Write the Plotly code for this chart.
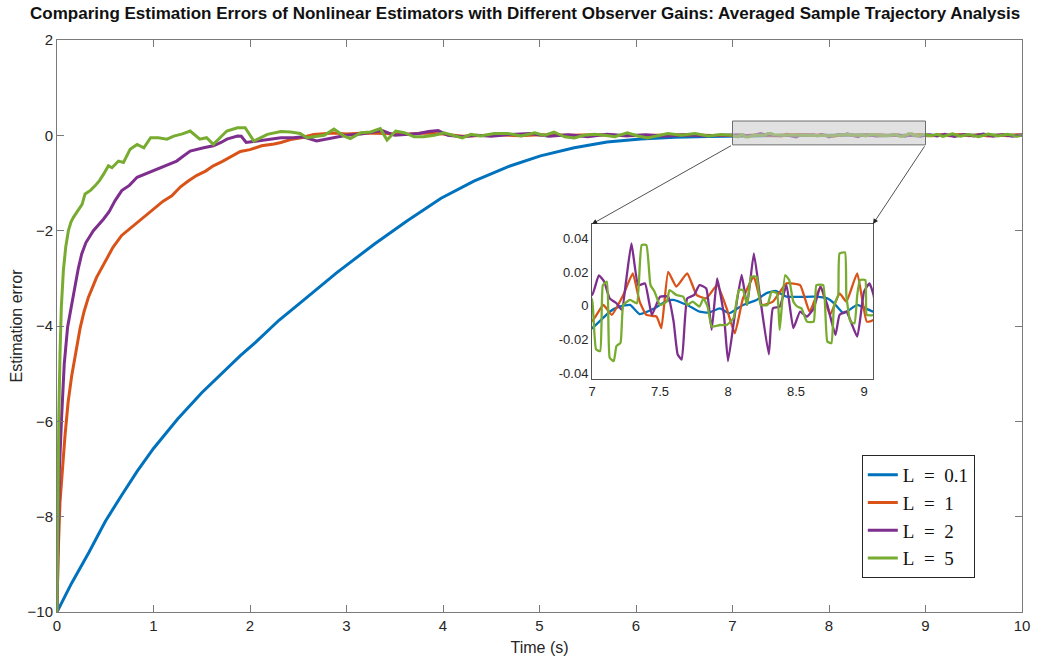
import plotly.graph_objects as go

# ---------------- data ----------------
labels = ["L\u2002=\u20020.1", "L\u2002=\u20021", "L\u2002=\u20022", "L\u2002=\u20025"]
colors = ["#0072BD", "#D95319", "#7E2F8E", "#77AC30"]

# transient part 0..7 s
t_l01 = [0, 0.15, 0.33, 0.5, 0.67, 0.83, 1.0, 1.25, 1.5, 1.75, 1.9, 2.06, 2.3, 2.59, 2.9,
         3.29, 3.63, 3.98, 4.32, 4.67, 5.01, 5.36, 5.7, 6.05, 6.4, 6.74]
y_l01 = [-10, -9.4, -8.75, -8.1, -7.55, -7.05, -6.57, -5.95, -5.4, -4.9, -4.62, -4.34, -3.88,
         -3.40, -2.88, -2.28, -1.79, -1.32, -0.96, -0.66, -0.43, -0.26, -0.14, -0.075, -0.04, -0.022]

t_l1 = [0, 0.01, 0.031, 0.06, 0.083, 0.115, 0.152, 0.2, 0.239, 0.28, 0.325, 0.41, 0.5, 0.58,
        0.67, 0.76, 0.84, 0.93, 1.02, 1.1, 1.19, 1.28, 1.36, 1.45, 1.54, 1.62, 1.71, 1.8, 1.9,
        2.0, 2.06, 2.12, 2.25, 2.32, 2.42, 2.53, 2.66, 2.8, 2.87, 3.0, 3.2, 3.4, 3.6, 3.8, 4.0,
        4.2, 4.4, 4.6, 4.8, 5.0, 5.3, 5.6, 5.9, 6.2, 6.5, 6.8]
y_l1 = [-10, -8.9, -7.7, -6.9, -6.3, -5.6, -5.05, -4.5, -4.05, -3.7, -3.4, -2.98, -2.63, -2.35,
        -2.1, -1.95, -1.82, -1.66, -1.50, -1.38, -1.27, -1.08, -0.96, -0.84, -0.75, -0.64, -0.55,
        -0.45, -0.34, -0.30, -0.26, -0.22, -0.18, -0.15, -0.09, -0.05, 0.02, 0.03, 0.05, 0.03,
        0.05, 0.04, 0.02, 0.05, 0.03, -0.02, 0.0, 0.01, -0.01, 0.01, 0.0, 0.01, -0.01, 0.0, 0.01,
        -0.005]

t_l2 = [0, 0.01, 0.025, 0.048, 0.075, 0.11, 0.15, 0.187, 0.22, 0.256, 0.3, 0.377, 0.43, 0.481,
        0.54, 0.602, 0.671, 0.75, 0.83, 0.9, 0.97, 1.1, 1.24, 1.3, 1.38, 1.52, 1.62, 1.7, 1.76,
        1.87, 1.91, 1.96, 2.06, 2.18, 2.32, 2.45, 2.55, 2.69, 2.85, 3.0, 3.15, 3.3, 3.37, 3.5,
        3.62, 3.75, 3.85, 3.95, 4.05, 4.2, 4.35, 4.5, 4.7, 4.9, 5.1, 5.3, 5.5, 5.7, 5.9, 6.1,
        6.3, 6.5, 6.7, 6.9]
y_l2 = [-10, -8.5, -7.0, -5.9, -4.8, -4.02, -3.55, -3.19, -2.8, -2.49, -2.25, -2.0, -1.88, -1.76,
        -1.6, -1.37, -1.16, -1.05, -0.88, -0.82, -0.77, -0.65, -0.54, -0.45, -0.33, -0.26, -0.22,
        -0.15, -0.08, -0.015, -0.02, -0.15, -0.12, -0.08, -0.05, -0.05, -0.03, -0.12, -0.05, 0.0,
        0.03, 0.08, 0.1, 0.0, 0.02, 0.04, 0.08, 0.1, 0.0, -0.03, 0.0, -0.02, 0.02, 0.04, -0.02,
        0.01, -0.03, 0.02, -0.01, 0.01, -0.02, 0.01, -0.01, 0.01]

t_l5 = [0, 0.008, 0.018, 0.031, 0.045, 0.066, 0.09, 0.118, 0.145, 0.17, 0.221, 0.26, 0.291,
        0.35, 0.394, 0.44, 0.481, 0.533, 0.57, 0.637, 0.689, 0.758, 0.83, 0.90, 0.97, 1.05,
        1.14, 1.21, 1.30, 1.38, 1.48, 1.55, 1.62, 1.70, 1.76, 1.87, 1.95, 2.04, 2.18, 2.32,
        2.42, 2.52, 2.59, 2.66, 2.77, 2.87, 2.97, 3.04, 3.15, 3.25, 3.35, 3.42, 3.51, 3.60,
        3.70, 3.80, 3.91, 4.01, 4.12, 4.20, 4.29, 4.39, 4.53, 4.67, 4.81, 4.88, 4.95, 5.05,
        5.15, 5.26, 5.36, 5.46, 5.57, 5.67, 5.78, 5.91, 6.02, 6.12, 6.23, 6.33, 6.47, 6.61,
        6.75, 6.88]
y_l5 = [-10, -8.0, -6.0, -4.6, -3.6, -2.84, -2.35, -2.0, -1.82, -1.72, -1.58, -1.45, -1.23,
        -1.15, -1.06, -0.95, -0.82, -0.64, -0.68, -0.54, -0.57, -0.29, -0.19, -0.26, -0.05,
        -0.05, -0.08, -0.015, 0.03, 0.09, -0.08, -0.05, -0.19, -0.02, 0.09, 0.16, 0.16, -0.12,
        0.02, 0.08, 0.07, 0.04, -0.05, -0.03, 0.0, 0.13, -0.01, -0.07, 0.055, 0.07, 0.14, -0.1,
        0.09, 0.055, -0.03, -0.03, 0.0, 0.055, 0.0, -0.055, 0.02, -0.015, 0.04, 0.04, -0.015,
        0.015, 0.055, 0.0, 0.07, -0.03, -0.055, 0.0, 0.02, 0.0, -0.03, 0.055, -0.015, -0.055,
        0.0, 0.04, 0.0, 0.04, -0.015, 0.015]

# zoomed window 7..9.07 s
ti_l01 = [7.0, 7.13, 7.2, 7.28, 7.35, 7.46, 7.55, 7.6, 7.7, 7.79, 7.86, 7.94, 8.01, 8.11,
          8.21, 8.28, 8.35, 8.43, 8.63, 8.73, 8.78, 8.85, 8.95, 9.07]
yi_l01 = [-0.0134, -0.0036, -0.0006, 0.0004, -0.005, -0.0016, 0.0028, 0.0034, 0.0004, -0.0036,
          -0.0041, -0.0016, -0.0045, 0.0004, 0.0034, 0.0073, 0.0087, 0.0053, 0.0053, 0.0043,
          0.0014, -0.0045, 0.0004, -0.0036]

ti_l1 = [7.0, 7.083, 7.145, 7.23, 7.30, 7.35, 7.40, 7.475, 7.51, 7.56, 7.62, 7.70, 7.77, 7.84,
         7.92, 7.99, 8.05, 8.11, 8.19, 8.25, 8.33, 8.43, 8.53, 8.60, 8.68, 8.75, 8.82, 8.87,
         8.95, 9.02, 9.07]
yi_l1 = [-0.0091, 0.0004, -0.0055, 0.0063, 0.0192, 0.0024, -0.0055, -0.0065, -0.0134, 0.0201,
         0.0113, 0.0192, 0.0063, 0.0043, 0.0122, -0.0016, -0.0164, 0.0043, 0.0172, 0.0004,
         0.0024, 0.0132, 0.0122, -0.0036, 0.0113, -0.0055, 0.0073, 0.0024, 0.0192, -0.0095,
         -0.0085]

ti_l2 = [7.0, 7.05, 7.09, 7.13, 7.18, 7.22, 7.25, 7.29, 7.34, 7.39, 7.44, 7.5, 7.56, 7.6, 7.63,
         7.66, 7.70, 7.75, 7.79, 7.84, 7.88, 7.92, 7.97, 8.0, 8.05, 8.10, 8.14, 8.19, 8.24, 8.30,
         8.33, 8.38, 8.43, 8.48, 8.53, 8.58, 8.63, 8.68, 8.73, 8.79, 8.82, 8.87, 8.95, 9.0, 9.04,
         9.07]
yi_l2 = [0.0063, 0.018, 0.0142, 0.0043, 0.0014, -0.0026, 0.0142, 0.037, 0.012, 0.0132, -0.0055,
         0.0053, 0.0053, -0.0095, -0.029, -0.032, 0.0043, 0.0063, 0.0122, 0.0102, -0.0144,
         0.0162, -0.0055, -0.033, -0.0055, 0.0182, 0.0004, 0.031, 0.0024, -0.029, -0.0016,
         -0.0006, 0.0122, -0.0134, -0.0036, -0.0065, -0.0016, 0.0113, 0.0004, -0.0174, -0.0055,
         -0.0036, -0.0184, 0.0083, 0.0132, 0.0063]

ti_l5 = [7.0, 7.01, 7.03, 7.06, 7.08, 7.11, 7.13, 7.16, 7.18, 7.21, 7.23, 7.28, 7.33, 7.365,
         7.40, 7.43, 7.46, 7.5, 7.55, 7.57, 7.62, 7.67, 7.70, 7.74, 7.79, 7.82, 7.85, 7.88, 7.94,
         7.99, 8.04, 8.08, 8.11, 8.14, 8.17, 8.21, 8.24, 8.29, 8.32, 8.36, 8.38, 8.42, 8.45,
         8.48, 8.51, 8.54, 8.58, 8.63, 8.65, 8.70, 8.73, 8.76, 8.78, 8.81, 8.82, 8.86, 8.87,
         8.90, 8.93, 8.95, 8.97, 9.01, 9.02, 9.07]
yi_l5 = [0.0034, -0.0055, -0.026, -0.027, 0.0122, 0.0142, -0.031, -0.033, -0.024, -0.022,
         0.0004, 0.0034, 0.0014, 0.036, 0.036, 0.0122, 0.0083, 0.0004, 0.0024, 0.0093, 0.0063,
         0.0053, 0.0004, 0.0024, -0.0006, 0.0043, -0.0006, -0.0124, -0.0115, -0.0115, -0.0075,
         0.0093, 0.0093, 0.0004, 0.0172, 0.0172, 0.0004, 0.0004, 0.0083, 0.0073, -0.0144,
         0.0182, 0.0152, 0.0024, -0.0006, -0.0016, -0.0095, -0.0095, 0.0122, 0.0122, -0.0213,
         -0.0223, 0.0004, 0.0063, 0.031, 0.0316, 0.0063, -0.0095, -0.0105, 0.0063, 0.0152,
         0.0152, -0.0055, -0.0055]

# tail 9.07..10 s
tt_l01 = [9.2, 9.4, 9.6, 9.8, 10.0]
yt_l01 = [-0.002, 0.003, -0.001, 0.002, 0.0]
tt_l1 = [9.15, 9.25, 9.35, 9.45, 9.55, 9.65, 9.75, 9.85, 9.95, 10.0]
yt_l1 = [0.012, -0.01, 0.015, -0.008, 0.01, -0.012, 0.008, -0.01, 0.012, 0.0]
tt_l2 = [9.12, 9.2, 9.3, 9.4, 9.5, 9.6, 9.7, 9.8, 9.9, 10.0]
yt_l2 = [-0.015, 0.02, -0.025, 0.018, -0.012, 0.025, -0.02, 0.015, -0.018, 0.01]
tt_l5 = [9.12, 9.18, 9.28, 9.36, 9.45, 9.55, 9.65, 9.75, 9.85, 9.95, 10.0]
yt_l5 = [0.02, -0.025, 0.03, -0.02, 0.015, -0.03, 0.025, -0.015, 0.02, -0.02, 0.0]

series = [
    (t_l01, y_l01, ti_l01, yi_l01, tt_l01, yt_l01),
    (t_l1, y_l1, ti_l1, yi_l1, tt_l1, yt_l1),
    (t_l2, y_l2, ti_l2, yi_l2, tt_l2, yt_l2),
    (t_l5, y_l5, ti_l5, yi_l5, tt_l5, yt_l5),
]

# zoom window
zoom_x = [7, 9]
zoom_y = [-0.2, 0.3]
inset_xrange = [7, 9.066]
inset_yrange = [-0.0436, 0.0485]
inset_xdom = [0.5544, 0.8456]
inset_ydom = [0.4073, 0.6783]
main_xrange = [0, 10]
main_yrange = [-10, 2]

# ---------------- figure ----------------
fig = go.Figure()
for (lab, col, s) in zip(labels, colors, series):
    t, y, ti, yi, tt, yt = s
    fig.add_trace(go.Scatter(x=t + ti + tt, y=y + yi + yt, mode="lines", name=lab,
                             line=dict(color=col, width=3), xaxis="x", yaxis="y"))
for (lab, col, s) in zip(labels, colors, series):
    t, y, ti, yi, tt, yt = s
    fig.add_trace(go.Scatter(x=t[-2:] + ti + tt[:2], y=y[-2:] + yi + yt[:2], mode="lines",
                             showlegend=False,
                             line=dict(color=col, width=2.3, shape="spline", smoothing=0.4),
                             xaxis="x2", yaxis="y2"))

axcol = "#7a7a7a"
sans = "Liberation Sans, Arial, sans-serif"
tickfont = dict(family=sans, size=15, color="#262626")
labfont = dict(family=sans, size=16, color="#262626")

fig.update_layout(
    width=1045, height=664,
    margin=dict(l=57, r=23, t=40, b=52),
    paper_bgcolor="white", plot_bgcolor="white",
    title=dict(text="<b>Comparing Estimation Errors of Nonlinear Estimators with Different Observer Gains: Averaged Sample Trajectory Analysis</b>",
               font=dict(family=sans, size=17, color="#111111"),
               x=0.5025, xanchor="center", y=1 - 13 / 664, yanchor="middle", xref="container",
               yref="container"),
    xaxis=dict(range=main_xrange, tickvals=list(range(0, 11)), ticks="inside", ticklen=7,
               tickcolor=axcol, showline=True, linecolor=axcol, linewidth=1, mirror="ticks",
               showgrid=False, zeroline=False, tickfont=tickfont,
               title=dict(text="Time (s)", font=labfont, standoff=8)),
    yaxis=dict(range=main_yrange, tickvals=list(range(-10, 3, 2)), ticks="inside", ticklen=7,
               tickcolor=axcol, showline=True, linecolor=axcol, linewidth=1, mirror="ticks",
               showgrid=False, zeroline=False, tickfont=tickfont,
               title=dict(text="Estimation error", font=labfont, standoff=0)),
    xaxis2=dict(domain=inset_xdom, anchor="y2", range=inset_xrange,
                tickvals=[7, 7.5, 8, 8.5, 9], ticktext=["7", "7.5", "8", "8.5", "9"],
                ticks="", showline=True, linecolor="#555555", linewidth=1, mirror=True,
                showgrid=False, zeroline=False,
                tickfont=dict(family=sans, size=13, color="#262626")),
    yaxis2=dict(domain=inset_ydom, anchor="x2", range=inset_yrange,
                tickvals=[-0.04, -0.02, 0, 0.02, 0.04],
                ticktext=["-0.04", "-0.02", "0", "0.02", "0.04"],
                ticks="", showline=True, linecolor="#555555", linewidth=1, mirror=True,
                showgrid=False, zeroline=False,
                tickfont=dict(family=sans, size=13, color="#262626")),
    legend=dict(x=0.834, y=0.2745, xanchor="left", yanchor="top", bgcolor="white",
                bordercolor="#262626", borderwidth=1,
                font=dict(family="Liberation Serif, DejaVu Serif, serif", size=19, color="#111111"),
                tracegroupgap=0, itemwidth=30),
    showlegend=True,
)

# zoom rectangle in main axes
fig.add_shape(type="rect", xref="x", yref="y", x0=zoom_x[0], x1=zoom_x[1],
              y0=zoom_y[0], y1=zoom_y[1], layer="above",
              fillcolor="rgba(200,200,200,0.55)", line=dict(color="#6e6e6e", width=1))

# connector arrows from the rectangle to the inset corners (in main-axis coordinates)
def to_main_x(frac):
    return main_xrange[0] + frac * (main_xrange[1] - main_xrange[0])

def to_main_y(frac):
    return main_yrange[0] + frac * (main_yrange[1] - main_yrange[0])

for zx, dx in [(zoom_x[0], inset_xdom[0]), (zoom_x[1], inset_xdom[1])]:
    fig.add_annotation(x=to_main_x(dx), y=to_main_y(inset_ydom[1]), xref="x", yref="y",
                       ax=zx, ay=zoom_y[0], axref="x", ayref="y", text="", showarrow=True,
                       arrowhead=2, arrowsize=1.3, arrowwidth=0.8, arrowcolor="#262626",
                       standoff=0)

fig.write_html("out.html")
